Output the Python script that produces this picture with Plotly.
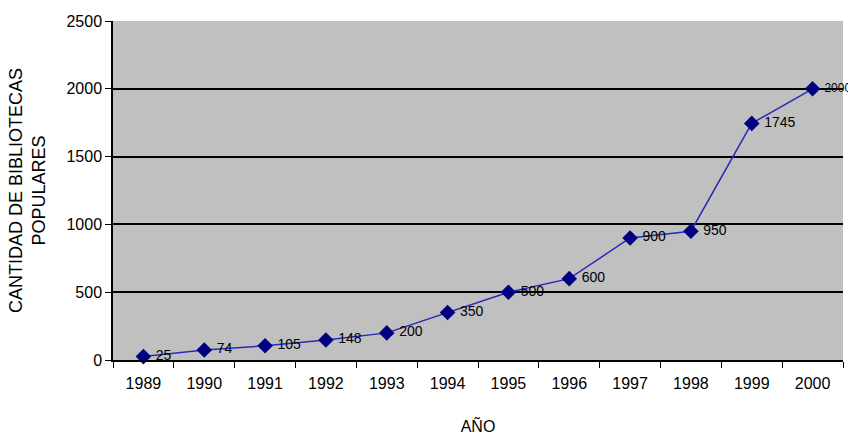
import plotly.graph_objects as go

years = ["1989", "1990", "1991", "1992", "1993", "1994", "1995", "1996", "1997", "1998", "1999", "2000"]
values = [25, 74, 105, 148, 200, 350, 500, 600, 900, 950, 1745, 2000]
labels = ["25", "74", "105", "148", "200", "350", "500", "600", "900", "950", "1745", "2000"]
y_ticks = [0, 500, 1000, 1500, 2000, 2500]

fig = go.Figure()
fig.add_trace(go.Scatter(
    x=years, y=values, mode="lines+markers+text",
    text=labels, texttemplate=" %{text}", textposition="middle right",
    textfont=dict(family="Liberation Sans, Arial", size=[14] * 11 + [12], color="black"),
    line=dict(color="#2a2ab8", width=1.5),
    marker=dict(symbol="diamond", size=12, color="#000080"),
    cliponaxis=False,
))

fig.update_layout(
    width=848, height=436,
    margin=dict(l=113, r=5, t=21, b=76),
    paper_bgcolor="white", plot_bgcolor="#c0c0c0",
    showlegend=False,
    font=dict(family="Liberation Sans, Arial", size=16, color="black"),
    xaxis=dict(
        type="category", range=[-0.5, 11.5], automargin=False,
        tickson="boundaries", ticks="outside", ticklen=6, tickcolor="black",
        showline=True, linecolor="black", linewidth=1.5, showgrid=False,
        ticklabelstandoff=8,
        title=dict(text="AÑO", standoff=30, font=dict(size=16)),
        tickfont=dict(size=16),
    ),
    yaxis=dict(
        range=[0, 2500], tickvals=y_ticks, ticks="outside", ticklen=6, tickcolor="black",
        showline=True, linecolor="black", linewidth=1.5, automargin=False,
        showgrid=True, gridcolor="black", gridwidth=1.5,
        zeroline=False,
        title=dict(text="CANTIDAD DE BIBLIOTECAS<br>POPULARES", standoff=16, font=dict(size=18)),
        tickfont=dict(size=16),
    ),
)

fig.write_html(
    "out.html",
    config={"displayModeBar": False},
    post_script="document.body.style.margin='0';document.body.style.overflow='hidden';",
)
